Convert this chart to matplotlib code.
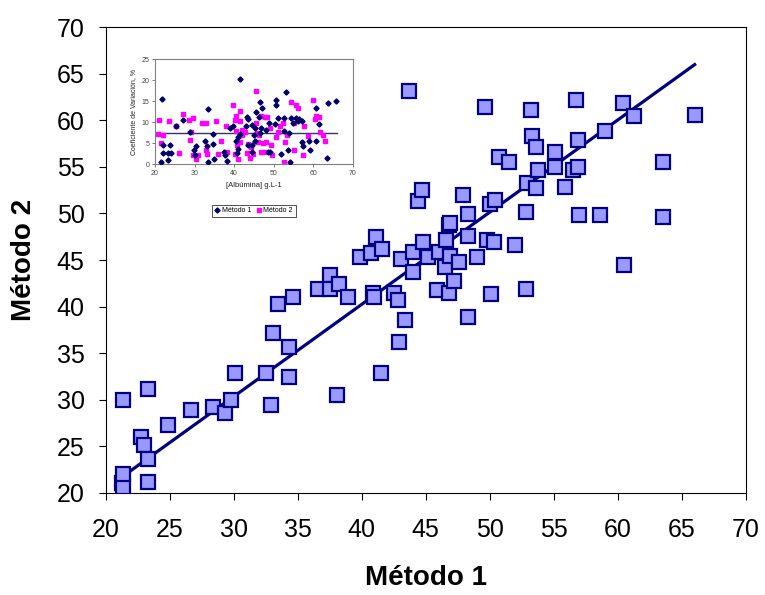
import numpy as np
import matplotlib
matplotlib.use('Agg')
import matplotlib.pyplot as plt

plt.rcParams['font.family'] = ['Liberation Sans', 'DejaVu Sans']

#
# main scatter: Metodo 1 vs Metodo 2
#
metodo1 = [21.4, 21.3, 21.4, 21.4, 22.8, 23.0, 23.3, 23.3, 23.3, 24.9,
           26.7, 28.4, 29.3, 29.8, 30.1, 32.5, 32.9, 33.1, 33.5, 34.3,
           34.3, 34.6, 36.6, 37.5, 37.5, 38.2, 38.9, 38.1, 39.9, 40.7,
           41.1, 41.6, 40.9, 41.0, 41.5, 42.5, 42.8, 42.9, 43.1, 43.4,
           43.7, 44.0, 44.0, 44.4, 44.7, 44.8, 45.2, 46.0, 45.9, 46.5,
           46.6, 46.8, 46.9, 46.8, 46.9, 47.2, 47.6, 47.9, 48.3, 48.3,
           48.3, 49.0, 49.6, 49.8, 50.0, 50.4, 50.3, 50.1, 50.7, 51.5,
           52.0, 52.8, 52.8, 52.9, 53.2, 53.3, 53.6, 53.6, 53.8, 55.1,
           55.1, 55.9, 56.7, 56.5, 56.9, 56.9, 57.0, 58.6, 59.0, 60.4,
           60.5, 61.3, 63.5, 63.5, 66.0]
metodo2 = [30.0, 21.0, 20.6, 22.0, 26.0, 25.1, 31.1, 23.6, 21.1, 27.3,
           28.9, 29.2, 28.6, 30.0, 32.9, 32.9, 29.4, 37.2, 40.3, 35.6,
           32.4, 41.0, 41.9, 43.4, 41.9, 42.4, 41.0, 30.5, 45.3, 45.8,
           47.5, 46.2, 41.5, 41.0, 32.9, 41.5, 40.7, 36.2, 45.1, 38.6,
           63.2, 45.9, 43.7, 51.3, 52.5, 46.9, 45.3, 45.9, 41.8, 44.2,
           47.2, 48.8, 49.0, 41.5, 45.4, 42.7, 44.8, 52.0, 49.9, 47.6,
           38.9, 45.3, 61.4, 47.2, 51.0, 51.5, 46.9, 41.3, 56.1, 55.5,
           46.6, 50.2, 41.9, 53.3, 61.1, 58.3, 57.1, 52.7, 54.7, 56.6,
           55.0, 52.8, 62.2, 54.7, 55.0, 57.9, 49.8, 49.8, 58.9, 61.9,
           44.5, 60.5, 55.5, 49.6, 60.6]

# regression line as drawn in the original
fit_x = [21.4, 66.0]
fit_y = [21.8, 66.0]

#
# inset: coefficient of variation vs albumin
#
cv1_x = [21.7, 21.5, 21.9, 21.9, 23.4, 23.8, 23.4, 24.0, 25.3, 27.2,
         28.8, 29.9, 30.3, 30.1, 32.6, 33.2, 33.4, 34.6, 34.7, 35.0,
         33.4, 37.4, 37.7, 38.3, 38.9, 39.8, 40.8, 41.0, 41.5, 41.6,
         41.0, 43.0, 43.3, 43.6, 43.5, 44.5, 45.0, 45.2, 44.6, 45.4,
         45.6, 46.5, 46.3, 47.1, 46.5, 46.9, 48.0, 48.6, 49.2, 48.8,
         50.3, 50.5, 50.7, 51.2, 51.8, 52.7, 53.1, 53.7, 53.9, 54.1,
         54.4, 55.0, 55.7, 56.1, 56.5, 57.3, 57.3, 57.5, 59.0, 59.2,
         60.8, 60.8, 61.6, 63.6, 63.8, 65.7, 40.6, 44.6, 52.7]
cv1_y = [15.5, 0.6, 2.6, 4.6, 2.6, 4.6, 1.0, 2.8, 9.1, 10.6,
         7.8, 3.4, 4.4, 2.2, 5.6, 4.4, 13.1, 7.1, 4.8, 1.3,
         0.5, 3.0, 2.2, 0.8, 8.6, 9.2, 2.6, 3.6, 7.1, 20.2,
         6.6, 9.2, 11.3, 10.7, 4.6, 9.4, 7.0, 5.6, 4.6, 8.6,
         12.5, 14.9, 11.3, 13.5, 7.4, 8.6, 8.2, 2.9, 3.0, 9.8,
         9.5, 14.0, 15.3, 11.1, 2.4, 7.9, 17.1, 3.4, 7.4, 0.5,
         11.1, 9.8, 11.0, 10.3, 10.8, 10.3, 5.2, 4.4, 5.6, 3.3,
         13.5, 5.6, 9.5, 1.4, 14.5, 15.1, 5.6, 3.0, 11.0]

cv2_x = [21.1, 20.8, 21.9, 21.4, 23.6, 25.4, 26.1, 27.2, 28.7, 29.7,
         29.2, 28.8, 29.7, 30.3, 31.0, 32.0, 32.9, 32.9, 33.2, 35.4,
         36.6, 36.0, 37.9, 38.1, 39.8, 40.4, 40.6, 40.8, 41.0, 41.5,
         41.9, 41.6, 42.1, 42.7, 43.2, 44.0, 43.6, 44.4, 45.5, 45.5,
         45.7, 46.3, 46.9, 47.7, 48.4, 47.2, 46.7, 47.5, 48.2, 49.2,
         49.4, 49.7, 50.5, 51.1, 51.7, 52.4, 52.6, 52.8, 53.4, 54.5,
         55.1, 55.6, 56.2, 55.1, 57.6, 58.7, 57.5, 60.0, 60.4, 61.5,
         61.7, 62.5, 63.0, 60.6, 40.2, 41.5, 40.2, 44.7, 46.1]
cv2_y = [10.6, 7.2, 7.0, 5.0, 10.3, 9.0, 2.6, 11.9, 10.6, 11.0,
         7.6, 5.8, 2.2, 1.3, 2.2, 9.8, 9.8, 3.4, 2.5, 10.2,
         5.6, 2.5, 9.2, 3.0, 14.0, 11.6, 7.9, 4.6, 1.3, 12.7,
         8.2, 10.2, 7.0, 7.6, 2.6, 1.6, 4.8, 4.2, 17.5, 9.8,
         7.4, 7.0, 11.6, 11.2, 11.3, 5.0, 3.0, 3.0, 5.4, 8.7,
         4.6, 2.2, 6.6, 7.8, 9.0, 9.9, 0.5, 5.2, 7.0, 14.9,
         9.8, 14.0, 13.5, 3.4, 9.0, 6.8, 2.2, 15.3, 10.8, 11.3,
         7.8, 7.0, 5.6, 11.6, 10.6, 5.2, 2.4, 2.4, 5.4]
cv_mean = 7.5

fig = plt.figure(figsize=(7.65, 5.95), dpi=100)
ax = fig.add_axes([0.138, 0.172, 0.837, 0.782])

ax.plot(fit_x, fit_y, c='#000080', lw=2.3, zorder=2)
ax.plot(metodo1, metodo2, ls='none', marker='s', ms=10,
        mfc='#9999FF', mec='#000080', mew=1.6, zorder=3)

ax.set_xlim(20, 70)
ax.set_ylim(20, 70)
ax.set_xticks(np.arange(20, 71, 5))
ax.set_yticks(np.arange(20, 71, 5))
ax.tick_params(direction='out', length=5, width=0.8, labelsize=18, pad=10)
ax.tick_params(axis='x', pad=13)
for sp in ax.spines.values():
    sp.set_linewidth(0.8)
ax.set_xlabel('Método 1', fontsize=20, fontweight='bold', labelpad=17)
ax.set_ylabel('Método 2', fontsize=20, fontweight='bold', labelpad=14)

# inset
ins = fig.add_axes([0.2026, 0.7239, 0.2584, 0.1765])
ins.plot([20, 66], [cv_mean, cv_mean], c='#333366', lw=1, zorder=1)
ins.plot(cv1_x, cv1_y, ls='none', marker='D', ms=2.6, c='#000066', label='Método 1', zorder=3)
ins.plot(cv2_x, cv2_y, ls='none', marker='s', ms=3.2, c='#FF00FF', label='Método 2', zorder=2)
ins.set_xlim(20, 70)
ins.set_ylim(0, 25)
ins.set_xticks(np.arange(20, 71, 10))
ins.set_yticks(np.arange(0, 26, 5))
ins.tick_params(direction='out', length=2, width=0.5, labelsize=5, pad=2, colors='#444444')
for sp in ins.spines.values():
    sp.set_color('#808080')
    sp.set_linewidth(0.8)
ins.set_xlabel('[Albúmina] g.L-1', fontsize=5.5, labelpad=4, color='#222222')
ins.set_ylabel('Coeficiente de Variación, %', fontsize=5, labelpad=3, color='#222222')
leg = ins.legend(loc='upper center', bbox_to_anchor=(0.5, -0.35), ncol=2, fontsize=5,
                 frameon=True, fancybox=False, edgecolor='black', handlelength=0.8,
                 handletextpad=0.3, columnspacing=0.6, borderpad=0.4)
leg.get_frame().set_linewidth(0.6)

fig.savefig('out.png', dpi=100)
